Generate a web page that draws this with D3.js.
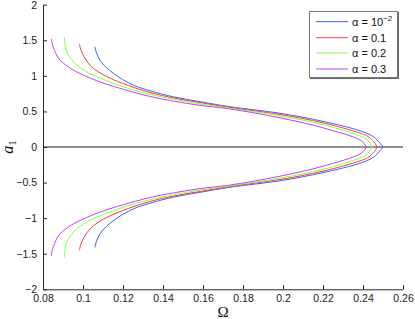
<!DOCTYPE html>
<html>
<head>
<meta charset="utf-8">
<script src="https://cdn.jsdelivr.net/npm/d3@7"></script>
<style>
  body { margin: 0; background: #fff; }
  svg { display: block; font-family: "Liberation Sans", Arial, sans-serif; }
</style>
</head>
<body>
<div id="chart"></div>
<script>
// backbone curves (top end -> apex -> bottom end)
var omegaBlue = [0.1059, 0.1068, 0.1085, 0.1115, 0.1150, 0.1197, 0.1260, 0.1335, 0.1452, 0.1585, 0.1735, 0.1985, 0.2200, 0.2385, 0.2452, 0.2485, 0.2498,
                 0.2485, 0.2452, 0.2385, 0.2200, 0.1985, 0.1735, 0.1585, 0.1452, 0.1335, 0.1260, 0.1197, 0.1150, 0.1115, 0.1085, 0.1068, 0.1059];
var a1Blue    = [1.41, 1.32, 1.22, 1.12, 1.04, 0.95, 0.86, 0.79, 0.705, 0.637, 0.566, 0.474, 0.36, 0.228, 0.145, 0.052, 0,
                 -0.052, -0.145, -0.228, -0.36, -0.474, -0.566, -0.637, -0.705, -0.79, -0.86, -0.95, -1.04, -1.12, -1.22, -1.32, -1.415];

var omegaRed = [0.0982, 0.0990, 0.1005, 0.1035, 0.1075, 0.1119, 0.1197, 0.1335, 0.1452, 0.1585, 0.1735, 0.1985, 0.2200, 0.2385, 0.2427, 0.2460, 0.2468,
                0.2460, 0.2427, 0.2385, 0.2200, 0.1985, 0.1735, 0.1585, 0.1452, 0.1335, 0.1197, 0.1119, 0.1075, 0.1035, 0.1005, 0.0990, 0.0982];
var a1Red    = [1.45, 1.36, 1.27, 1.15, 1.06, 0.99, 0.895, 0.765, 0.69, 0.625, 0.556, 0.457, 0.34, 0.195, 0.145, 0.052, 0,
                -0.052, -0.145, -0.195, -0.34, -0.457, -0.556, -0.625, -0.69, -0.765, -0.895, -0.99, -1.06, -1.15, -1.27, -1.36, -1.45];

var omegaGreen = [0.0907, 0.0910, 0.0915, 0.0935, 0.0969, 0.1035, 0.1110, 0.1197, 0.1335, 0.1452, 0.1585, 0.1735, 0.1985, 0.2200, 0.2385, 0.2410, 0.2435, 0.2443,
                  0.2435, 0.2410, 0.2385, 0.2200, 0.1985, 0.1735, 0.1585, 0.1452, 0.1335, 0.1197, 0.1110, 0.1035, 0.0969, 0.0935, 0.0915, 0.0910, 0.0907];
var a1Green    = [1.546, 1.45, 1.36, 1.26, 1.15, 1.03, 0.94, 0.85, 0.74, 0.672, 0.605, 0.546, 0.437, 0.315, 0.155, 0.122, 0.052, 0,
                  -0.052, -0.122, -0.155, -0.315, -0.437, -0.546, -0.605, -0.672, -0.74, -0.85, -0.94, -1.03, -1.15, -1.26, -1.36, -1.45, -1.55];

var omegaPurple = [0.0842, 0.0845, 0.0852, 0.0865, 0.0885, 0.0920, 0.0952, 0.1035, 0.1110, 0.1197, 0.1335, 0.1452, 0.1585, 0.1735, 0.1985, 0.2200, 0.2385, 0.2410, 0.2415,
                   0.2410, 0.2385, 0.2200, 0.1985, 0.1735, 0.1585, 0.1452, 0.1335, 0.1197, 0.1110, 0.1035, 0.0952, 0.0920, 0.0885, 0.0865, 0.0852, 0.0845, 0.0842];
var a1Purple    = [1.52, 1.46, 1.40, 1.31, 1.22, 1.14, 1.08, 0.97, 0.89, 0.815, 0.71, 0.645, 0.585, 0.535, 0.41, 0.27, 0.098, 0.03, 0,
                   -0.03, -0.098, -0.27, -0.41, -0.535, -0.585, -0.645, -0.71, -0.815, -0.89, -0.97, -1.08, -1.14, -1.22, -1.31, -1.40, -1.46, -1.53];

var seriesNames  = ["10", "0.1", "0.2", "0.3"];
var seriesColors = ["#3f5fff", "#ff3a3a", "#80ff40", "#c040ff"];

var xTicks = [0.08, 0.1, 0.12, 0.14, 0.16, 0.18, 0.2, 0.22, 0.24, 0.26];
var xTickLabels = ["0.08", "0.1", "0.12", "0.14", "0.16", "0.18", "0.2", "0.22", "0.24", "0.26"];
var yTicks = [-2, -1.5, -1, -0.5, 0, 0.5, 1, 1.5, 2];
var yTickLabels = ["\u22122", "\u22121.5", "\u22121", "\u22120.5", "0", "0.5", "1", "1.5", "2"];

var W = 415, H = 319;
var svg = d3.select("#chart").append("svg").attr("width", W).attr("height", H);

var x = d3.scaleLinear().domain([0.08, 0.26]).range([43, 403]);
var y = d3.scaleLinear().domain([-2, 2]).range([289.3, 4.7]);

// zero line
svg.append("line")
    .attr("x1", x(0.08)).attr("x2", x(0.26))
    .attr("y1", y(0)).attr("y2", y(0))
    .attr("stroke", "#222").attr("stroke-width", 1);

var series = [
  {om: omegaBlue, a: a1Blue},
  {om: omegaRed, a: a1Red},
  {om: omegaGreen, a: a1Green},
  {om: omegaPurple, a: a1Purple}
];

var line = d3.line()
    .x(function(d){ return x(d[0]); })
    .y(function(d){ return y(d[1]); })
    .curve(d3.curveCatmullRom.alpha(0.5));

series.forEach(function(s, i)
{
    var pts = s.om.map(function(o, k){ return [o, s.a[k]]; });
    svg.append("path")
        .datum(pts)
        .attr("d", line)
        .attr("fill", "none")
        .attr("stroke", seriesColors[i])
        .attr("stroke-width", 1);
});

// axes
var xAxis = d3.axisBottom(x)
    .tickValues(xTicks)
    .tickFormat(function(d, i){ return xTickLabels[i]; })
    .tickSizeInner(-4).tickSizeOuter(0).tickPadding(5);

var yAxis = d3.axisLeft(y)
    .tickValues(yTicks)
    .tickFormat(function(d, i){ return yTickLabels[i]; })
    .tickSizeInner(-4).tickSizeOuter(0).tickPadding(6);

var gx = svg.append("g").attr("transform", "translate(0," + y(-2) + ")").call(xAxis);
var gy = svg.append("g").attr("transform", "translate(" + x(0.08) + ",0)").call(yAxis);

[gx, gy].forEach(function(g)
{
    g.select(".domain").attr("stroke", "#262626");
    g.selectAll(".tick line").attr("stroke", "#262626");
    g.selectAll(".tick text")
        .attr("fill", "#1a1a1a")
        .style("font-family", "'Liberation Sans', Arial, sans-serif")
        .style("font-size", "10.5px");
});

// axis labels
svg.append("text")
    .attr("x", 223).attr("y", 317)
    .attr("text-anchor", "middle")
    .style("font-family", "'Liberation Serif', 'Times New Roman', serif")
    .style("font-size", "15px")
    .attr("fill", "#111")
    .text("\u03A9");

var ylab = svg.append("text")
    .attr("transform", "translate(13,147) rotate(-90)")
    .attr("text-anchor", "middle")
    .style("font-family", "'Liberation Serif', 'Times New Roman', serif")
    .attr("fill", "#111");
ylab.append("tspan").style("font-style", "italic").style("font-size", "16px").text("a");
ylab.append("tspan").attr("dy", 3).style("font-size", "11px").text("1");

// legend
var lg = svg.append("g");
lg.append("rect")
    .attr("x", 310).attr("y", 12).attr("width", 89).attr("height", 67)
    .attr("fill", "#666");
lg.append("rect")
    .attr("x", 309.5).attr("y", 11.5).attr("width", 88).attr("height", 66)
    .attr("fill", "#fff").attr("stroke", "#777").attr("stroke-width", 1);

var legendY = [21.7, 37.7, 53, 69];
seriesNames.forEach(function(name, i)
{
    lg.append("line")
        .attr("x1", 316).attr("x2", 348)
        .attr("y1", legendY[i]).attr("y2", legendY[i])
        .attr("stroke", seriesColors[i]).attr("stroke-width", 1);
    var t = lg.append("text")
        .attr("x", 352).attr("y", legendY[i] + 4)
        .style("font-size", "11px")
        .attr("fill", "#111");
    t.append("tspan").text("\u03B1 = " + name);
    if (i == 0)
    {
        t.append("tspan").attr("dy", -5).style("font-size", "8px").text("\u22122");
    }
});
</script>
</body>
</html>
